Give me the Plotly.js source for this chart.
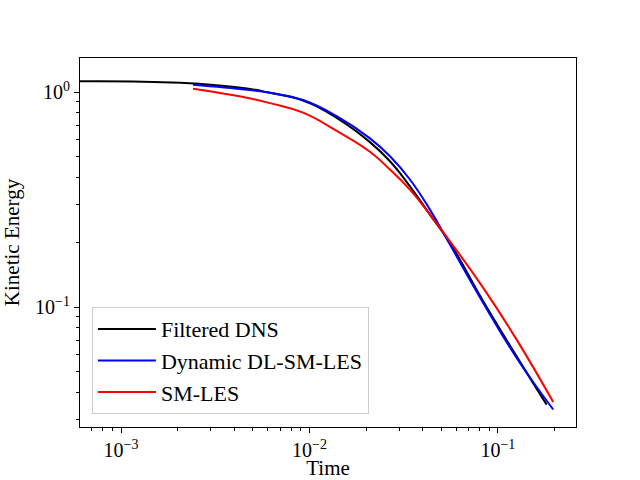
<!DOCTYPE html>
<html>
<head>
<meta charset="utf-8">
<script src="https://cdn.plot.ly/plotly-3.0.1.min.js"></script>
<style>
  body { margin: 0; }
  #plot { width: 640px; height: 480px; }
</style>
</head>
<body>
<div id="plot"></div>
<script>
// values (log-log)
var dnsTime = [5.8e-4, 2.06e-3, 4.66e-3, 6.17e-3, 9.24e-3, 1.394e-2, 2.094e-2, 2.674e-2, 3.413e-2, 4.357e-2, 5.565e-2, 8.356e-2, 0.1257, 0.1813];
var dnsKE   = [1.123, 1.104, 1.038, 0.9915, 0.913, 0.7586, 0.585, 0.4766, 0.3646, 0.2693, 0.1988, 0.1064, 0.0590, 0.0352];

var dlTime = [2.41e-3, 4.66e-3, 6.17e-3, 9.24e-3, 1.394e-2, 2.094e-2, 2.674e-2, 3.413e-2, 4.357e-2, 5.565e-2, 8.356e-2, 0.1257, 0.1965];
var dlKE   = [1.080, 1.024, 0.9915, 0.918, 0.772, 0.609, 0.503, 0.392, 0.284, 0.1953, 0.1046, 0.0580, 0.0334];

var smTime = [2.41e-3, 4.66e-3, 6.17e-3, 9.24e-3, 1.394e-2, 2.094e-2, 2.674e-2, 3.413e-2, 4.357e-2, 5.565e-2, 8.356e-2, 0.1257, 0.1965];
var smKE   = [1.035, 0.940, 0.888, 0.802, 0.660, 0.528, 0.436, 0.352, 0.2693, 0.2023, 0.1228, 0.0706, 0.0362];

var xTicks = [1e-3, 1e-2, 1e-1];
var xTickText = ["10<sup>\u22123</sup>", "10<sup>\u22122</sup>", "10<sup>\u22121</sup>"];
var yTicks = [0.1, 1];
var yTickText = ["10<sup>\u22121</sup>", "10<sup>0</sup>"];

// minor tick positions 2..9 per decade
function minorTicks(lo, hi) {
  var out = [];
  for (var e = lo; e <= hi; e++) {
    for (var m = 2; m <= 9; m++) out.push(m * Math.pow(10, e));
  }
  return out;
}

var font = "Liberation Serif, DejaVu Serif, serif";

var traces = [
  {x: dnsTime, y: dnsKE, name: "Filtered DNS", mode: "lines",
   line: {color: "black", width: 2, shape: "spline", smoothing: 1.3}},
  {x: dlTime, y: dlKE, name: "Dynamic DL-SM-LES", mode: "lines",
   line: {color: "blue", width: 2, shape: "spline", smoothing: 1.3}},
  {x: smTime, y: smKE, name: "SM-LES", mode: "lines",
   line: {color: "red", width: 2, shape: "spline", smoothing: 1.3}}
];

var layout = {
  width: 640,
  height: 480,
  margin: {l: 80, r: 64, t: 58, b: 53},
  paper_bgcolor: "white",
  plot_bgcolor: "white",
  font: {family: font, size: 20, color: "black"},
  showlegend: true,
  legend: {
    x: 0.024, y: 0.035, xanchor: "left", yanchor: "bottom",
    bgcolor: "rgba(255,255,255,0.8)", bordercolor: "#cccccc", borderwidth: 1,
    itemwidth: 58,
    font: {family: font, size: 22}
  },
  xaxis: {
    type: "log",
    range: [Math.log10(6.06e-4), Math.log10(0.2596)],
    tickvals: xTicks, ticktext: xTickText,
    showgrid: false, zeroline: false,
    showline: true, mirror: true, linecolor: "black", linewidth: 1,
    ticks: "outside", ticklen: 5, tickcolor: "black",
    minor: {tickvals: minorTicks(-4, -1), ticks: "outside", ticklen: 3, tickcolor: "black", showgrid: false},
    tickfont: {size: 20},
    title: {text: "Time", font: {size: 21}, standoff: 4}
  },
  yaxis: {
    type: "log",
    range: [Math.log10(0.0277), Math.log10(1.44)],
    tickvals: yTicks, ticktext: yTickText,
    showgrid: false, zeroline: false,
    showline: true, mirror: true, linecolor: "black", linewidth: 1,
    ticks: "outside", ticklen: 5, tickcolor: "black",
    minor: {tickvals: minorTicks(-2, 0), ticks: "outside", ticklen: 3, tickcolor: "black", showgrid: false},
    tickfont: {size: 20},
    title: {text: "Kinetic Energy", font: {size: 21}, standoff: 10}
  }
};

Plotly.newPlot("plot", traces, layout, {staticPlot: true});
</script>
</body>
</html>
